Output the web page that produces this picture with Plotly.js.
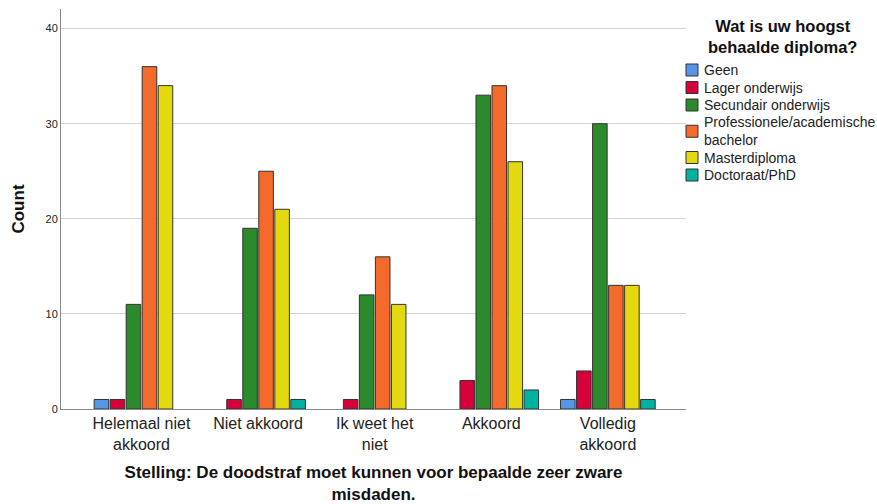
<!DOCTYPE html>
<html>
<head>
<meta charset="utf-8">
<script src="https://cdn.plot.ly/plotly-3.0.1.min.js"></script>
<style>html,body{margin:0;padding:0;background:#fff;}#chart{width:877px;height:504px;}</style>
</head>
<body>
<div id="chart"></div>
<script>
var categories = ["Helemaal niet<br>akkoord", "Niet akkoord", "Ik weet het<br>niet", "Akkoord", "Volledig<br>akkoord"];
var seriesNames = ["Geen", "Lager onderwijs", "Secundair onderwijs", "Professionele/academische<br>bachelor", "Masterdiploma", "Doctoraat/PhD"];
var geen       = [1, 0, 0, 0, 1];
var lager      = [1, 1, 1, 3, 4];
var secundair  = [11, 19, 12, 33, 30];
var professioneel = [36, 25, 16, 34, 13];
var master     = [34, 21, 11, 26, 13];
var doctoraat  = [0, 1, 0, 2, 1];
var seriesValues = [geen, lager, secundair, professioneel, master, doctoraat];
var colors = ["#5596e6", "#d6003a", "#2b8a2b", "#f46a2a", "#e4d90f", "#00b3a0"];
var yTicks = [0, 10, 20, 30, 40];
var legendTitle = "Wat is uw hoogst<br>behaalde diploma?";

var font = "Liberation Sans, Arial, sans-serif";
var W = 877, H = 504;
var M = { l: 61, r: 191, t: 9, b: 95 };
var pw = W - M.l - M.r, ph = H - M.t - M.b;
function px2x(px) { return (px - M.l) / pw; }
function py2y(py) { return (H - M.b - py) / ph; }

// zero counts are not drawn (empty slot), as in the source chart
var traces = seriesNames.map(function (name, i) {
  return {
    type: "bar",
    name: name.replace("<br>", " "),
    x: categories,
    y: seriesValues[i].map(function (v) { return v === 0 ? null : v; }),
    marker: { color: colors[i], line: { color: "#333333", width: 1 } },
    hoverinfo: "x+y+name"
  };
});

// legend drawn as shapes + annotations for exact placement
var shapes = [];
var annotations = [{
  xref: "paper", yref: "paper",
  x: px2x(782), y: py2y(36),
  xanchor: "center", yanchor: "middle",
  text: "<b>" + legendTitle + "</b>",
  showarrow: false, align: "center",
  font: { size: 16.5, family: font, color: "#111111" }
}];
var step = 17.5, yCur = 70;
seriesNames.forEach(function (name, i) {
  var lines = name.split("<br>").length;
  var cy = yCur + (lines - 1) * step / 2;
  shapes.push({
    type: "rect", xref: "paper", yref: "paper",
    x0: px2x(686), x1: px2x(698), y0: py2y(cy + 6), y1: py2y(cy - 6),
    fillcolor: colors[i], line: { color: "#333333", width: 1 }
  });
  annotations.push({
    xref: "paper", yref: "paper",
    x: px2x(702), y: py2y(cy),
    xanchor: "left", yanchor: "middle",
    text: name, showarrow: false, align: "left",
    font: { size: 14, family: font, color: "#222222" }
  });
  yCur += lines * step;
});

var layout = {
  width: W,
  height: H,
  margin: M,
  paper_bgcolor: "#ffffff",
  plot_bgcolor: "#ffffff",
  font: { family: font, color: "#222222" },
  barmode: "group",
  bargap: 0.176,
  bargroupgap: 0.09,
  showlegend: false,
  xaxis: {
    type: "category",
    range: [-0.69, 4.67],
    showline: true,
    linecolor: "#888888",
    linewidth: 1,
    showgrid: false,
    zeroline: false,
    ticks: "",
    tickfont: { size: 16, family: font, color: "#222222" },
    title: {
      text: "<b>Stelling: De doodstraf moet kunnen voor bepaalde zeer zware<br>misdaden.</b>",
      font: { size: 17, family: font, color: "#111111" },
      standoff: 15
    },
    automargin: false
  },
  yaxis: {
    range: [0, 42.06],
    tickvals: yTicks,
    ticktext: yTicks.map(String),
    showline: true,
    linecolor: "#888888",
    linewidth: 1,
    showgrid: true,
    gridcolor: "#d4d4d4",
    gridwidth: 1,
    zeroline: false,
    ticks: "",
    tickfont: { size: 11, family: font, color: "#222222" },
    title: {
      text: "<b>Count</b>",
      font: { size: 17, family: font, color: "#111111" },
      standoff: 16
    },
    automargin: false
  },
  shapes: shapes,
  annotations: annotations
};

Plotly.newPlot("chart", traces, layout, { staticPlot: true, displayModeBar: false });
</script>
</body>
</html>
